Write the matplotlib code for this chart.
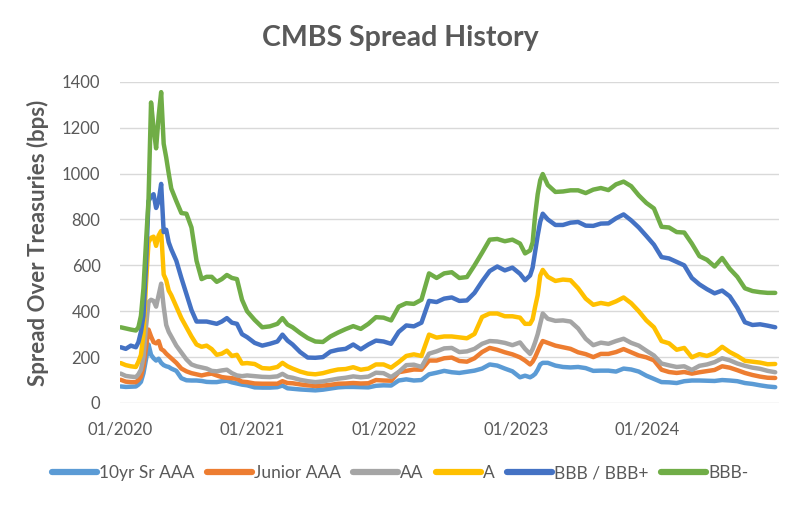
import matplotlib
matplotlib.use("Agg")
import matplotlib.pyplot as plt
import pandas as pd

# weeks since 2020-01-03 (weekly data sampled)
weeks = [0, 2, 4, 6, 7, 8, 9, 10, 11, 12, 13, 14, 15, 16, 17, 18, 19, 20, 22, 24, 26, 28, 30, 32, 34, 36, 38, 40, 42, 44, 46, 48, 50,
         53, 56, 59, 62, 64, 66, 68, 71, 74, 77, 80, 83, 86, 89, 92, 95, 98, 101, 104,
         107, 110, 113, 116, 119, 122, 125, 128, 131, 134, 137, 140, 143, 146, 149, 152, 155,
         158, 160, 162, 163, 164, 165, 166, 167, 169, 172, 175, 178, 181, 184, 187, 190, 193, 196, 199, 202, 205,
         208, 211, 214, 217, 220, 223, 226, 229, 232, 235, 238, 241, 244, 247, 250, 253, 256, 259]

sr_aaa = [72, 70, 71, 72, 80, 92, 130, 190, 255, 210, 195, 185, 193, 175, 165, 160, 157, 150, 140, 108, 99, 98, 98, 96, 92, 91, 91, 95, 97, 90, 85, 80, 77,
          68, 67, 67, 69, 76, 64, 62, 59, 57, 55, 58, 63, 68, 70, 70, 69, 68, 75, 77,
          76, 98, 103, 98, 100, 125, 132, 140, 134, 131, 136, 141, 150, 168, 163, 150, 138,
          112, 119, 112, 118, 127, 145, 168, 175, 175, 163, 157, 155, 157, 152, 140, 141, 141, 137, 150, 146, 137,
          119, 105, 91, 90, 87, 95, 98, 98, 97, 96, 100, 98, 95, 87, 83, 77, 72, 69]

jr_aaa = [101, 93, 91, 91, 100, 115, 160, 240, 320, 290, 265, 260, 270, 235, 228, 215, 205, 195, 175, 150, 138, 130, 125, 120, 125, 128, 120, 113, 110, 108, 105, 93, 91,
          85, 84, 84, 84, 95, 87, 86, 81, 77, 74, 76, 79, 84, 85, 87, 85, 86, 100, 98,
          97, 134, 140, 146, 145, 185, 185, 195, 198, 183, 180, 195, 222, 240, 232, 221, 212,
          199, 185, 168, 180, 200, 225, 250, 270, 262, 250, 243, 236, 221, 213, 200, 214, 214, 222, 235, 221, 207,
          199, 186, 145, 135, 131, 135, 128, 134, 139, 144, 160, 154, 143, 131, 122, 115, 110, 109]

aa = [128, 118, 115, 113, 125, 145, 200, 330, 440, 450, 445, 420, 470, 520, 420, 340, 310, 290, 250, 220, 190, 168, 160, 155, 150, 140, 138, 142, 145, 130, 120, 117, 120,
      117, 114, 113, 116, 127, 114, 110, 101, 95, 91, 94, 100, 106, 110, 116, 112, 115, 132, 130,
      113, 135, 165, 167, 157, 215, 225, 238, 240, 222, 225, 236, 258, 270, 268, 262, 252,
      264, 236, 214, 235, 265, 300, 345, 390, 367, 358, 360, 355, 325, 280, 252, 263, 258, 270, 280, 262, 250,
      228, 207, 172, 164, 157, 160, 144, 162, 168, 178, 195, 186, 172, 162, 154, 149, 140, 134]

a = [174, 165, 160, 157, 180, 210, 300, 520, 700, 720, 725, 685, 730, 750, 560, 535, 490, 470, 420, 370, 330, 290, 255, 245, 250, 235, 210, 215, 228, 205, 210, 172, 174,
     170, 152, 150, 157, 175, 160, 150, 137, 128, 125, 130, 139, 146, 148, 156, 145, 150, 168, 168,
     154, 178, 205, 212, 205, 298, 285, 290, 290, 286, 282, 301, 375, 390, 390, 378, 378,
     372, 345, 345, 365, 420, 470, 555, 580, 550, 532, 538, 535, 500, 455, 428, 436, 430, 443, 460, 435, 400,
     360, 330, 270, 260, 232, 240, 199, 213, 205, 218, 245, 222, 205, 184, 180, 176, 169, 170]

bbb = [243, 236, 250, 243, 265, 310, 380, 600, 880, 900, 910, 850, 880, 955, 745, 755, 700, 670, 620, 545, 475, 405, 355, 355, 355, 350, 345, 355, 370, 350, 345, 300, 287,
       262, 250, 258, 268, 298, 272, 255, 222, 198, 197, 200, 224, 232, 236, 255, 234, 255, 272, 268,
       258, 310, 338, 334, 350, 445, 440, 455, 460, 445, 447, 480, 530, 575, 595, 578, 590,
       563, 535, 556, 590, 660, 730, 790, 825, 800, 776, 776, 786, 789, 773, 772, 782, 783, 805, 822, 796, 765,
       728, 690, 636, 630, 615, 600, 545, 517, 496, 478, 490, 465, 415, 352, 340, 343, 337, 330]

bbb_minus = [330, 325, 320, 316, 330, 380, 500, 700, 885, 1310, 1200, 1110, 1250, 1355, 1130, 1070, 1000, 935, 880, 828, 825, 765, 620, 540, 550, 550, 528, 540, 558, 545, 540, 450, 400,
             362, 330, 334, 345, 370, 342, 330, 305, 283, 268, 266, 290, 307, 322, 335, 323, 345, 374, 372,
             360, 420, 435, 432, 450, 565, 545, 565, 570, 545, 549, 600, 655, 712, 715, 705, 712,
             695, 652, 665, 700, 820, 910, 971, 998, 950, 920, 922, 927, 927, 915, 930, 937, 928, 953, 965, 945, 905,
             872, 848, 768, 765, 745, 743, 695, 640, 624, 595, 632, 585, 550, 500, 488, 483, 480, 480]

series_names = ["10yr Sr AAA", "Junior AAA", "AA", "A", "BBB / BBB+", "BBB-"]
series_values = [sr_aaa, jr_aaa, aa, a, bbb, bbb_minus]
colors = ["#5B9BD5", "#ED7D31", "#A5A5A5", "#FFC000", "#4472C4", "#70AD47"]

x_tick_dates = ["2020-01-01", "2021-01-01", "2022-01-01", "2023-01-01", "2024-01-01"]
x_tick_labels = ["01/2020", "01/2021", "01/2022", "01/2023", "01/2024"]
y_ticks = [0, 200, 400, 600, 800, 1000, 1200, 1400]

title = "CMBS Spread History"
y_label = "Spread Over Treasuries (bps)"

plt.rcParams["font.family"] = ["Lato", "DejaVu Sans"]
txt = "#595959"

dates = pd.Timestamp("2020-01-03") + pd.to_timedelta([w * 7 for w in weeks], unit="D")

fig = plt.figure(figsize=(8, 5.05), dpi=100)
ax = fig.add_axes([0.15, 0.202, 0.824, 0.636])

for name, vals, c in zip(series_names, series_values, colors):
    ax.plot(dates, vals, color=c, lw=3.2, label=name, solid_joinstyle="round", solid_capstyle="round")

ax.set_ylim(0, 1400)
ax.set_yticks(y_ticks)
ax.set_xlim(pd.Timestamp("2020-01-01"), pd.Timestamp("2024-12-31"))
ax.set_xticks(pd.to_datetime(x_tick_dates))
ax.set_xticklabels(x_tick_labels)
ax.grid(axis="y", color="#D9D9D9", lw=1)
ax.set_axisbelow(True)
for s in ax.spines.values():
    s.set_visible(False)
ax.tick_params(axis="both", length=0, labelsize=12, labelcolor=txt)
ax.tick_params(axis="y", pad=14)
ax.tick_params(axis="x", pad=13)

ax.set_ylabel(y_label, fontsize=16, fontweight="bold", color=txt)
ax.yaxis.set_label_coords(-0.108, 0.5)

fig.text(0.5, 0.925, title, ha="center", va="center", fontsize=20.5, fontweight="bold", color=txt)

leg = fig.legend(loc="center", bbox_to_anchor=(0.5, 0.063), ncol=6, frameon=False,
                 fontsize=12.5, handlelength=2.6, handletextpad=0.12, columnspacing=0.7,
                 labelcolor=txt)
for h in leg.legend_handles:
    h.set_linewidth(4.5)

fig.savefig("out.png", dpi=100)
